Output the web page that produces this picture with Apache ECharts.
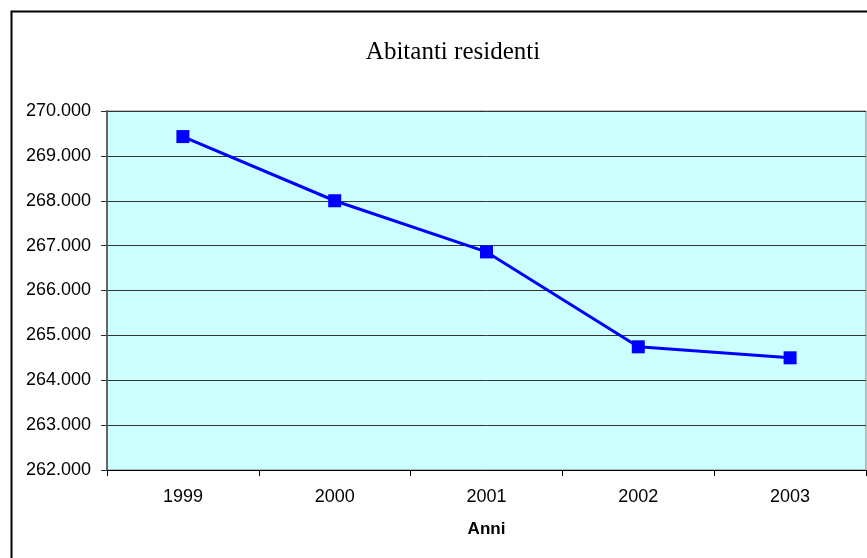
<!DOCTYPE html>
<html>
<head>
<meta charset="utf-8">
<script src="https://cdn.jsdelivr.net/npm/echarts@6/dist/echarts.min.js"></script>
<style>
html,body{margin:0;padding:0;background:#fff;}
#c{width:867px;height:558px;}
</style>
</head>
<body>
<div id="c"></div>
<script>
const categories = ['1999', '2000', '2001', '2002', '2003'];
const residents = [269430, 268000, 266860, 264745, 264500];
const yMin = 262000, yMax = 270000, yStep = 1000;

function fmt(v) {
  const k = Math.floor(v / 1000), r = Math.round(v % 1000);
  return k + '.' + String(r).padStart(3, '0');
}

const chart = echarts.init(document.getElementById('c'));
chart.setOption({
  animation: false,
  backgroundColor: '#fff',
  graphic: [{
    type: 'rect', left: 9, top: 9, z: -1,
    shape: { x: 0, y: 0, width: 1000, height: 700 },
    style: { fill: 'none', stroke: '#000', lineWidth: 2 }
  }],
  title: {
    text: 'Abitanti residenti',
    left: 448, top: 35, textAlign: 'center',
    textStyle: { fontFamily: 'Liberation Serif', fontSize: 25, fontWeight: 'normal', color: '#000' }
  },
  grid: {
    left: 107, right: 1, top: 111, bottom: 88,
    show: true, backgroundColor: '#CCFFFF', borderColor: '#808080', borderWidth: 1
  },
  xAxis: {
    type: 'category', data: categories, boundaryGap: true,
    name: 'Anni', nameLocation: 'middle', nameGap: 51,
    nameTextStyle: { fontFamily: 'Liberation Sans', fontSize: 17, fontWeight: 'bold', color: '#000' },
    axisLine: { lineStyle: { color: '#000', width: 1 } },
    axisTick: { show: true, length: 6, lineStyle: { color: '#000' } },
    axisLabel: { fontFamily: 'Liberation Sans', fontSize: 18, color: '#000', margin: 18 }
  },
  yAxis: {
    type: 'value', min: yMin, max: yMax, interval: yStep,
    axisLine: { show: true, lineStyle: { color: '#666', width: 2 } },
    axisTick: { show: true, length: 6, lineStyle: { color: '#333' } },
    axisLabel: { fontFamily: 'Liberation Sans', fontSize: 18, color: '#000', margin: 16, formatter: fmt },
    splitLine: { show: true, lineStyle: { color: '#333', width: 1 } }
  },
  series: [{
    type: 'line', data: residents,
    symbol: 'rect', symbolSize: 13,
    lineStyle: { color: '#0000FF', width: 3 },
    itemStyle: { color: '#0000FF' }
  }]
});
</script>
</body>
</html>
